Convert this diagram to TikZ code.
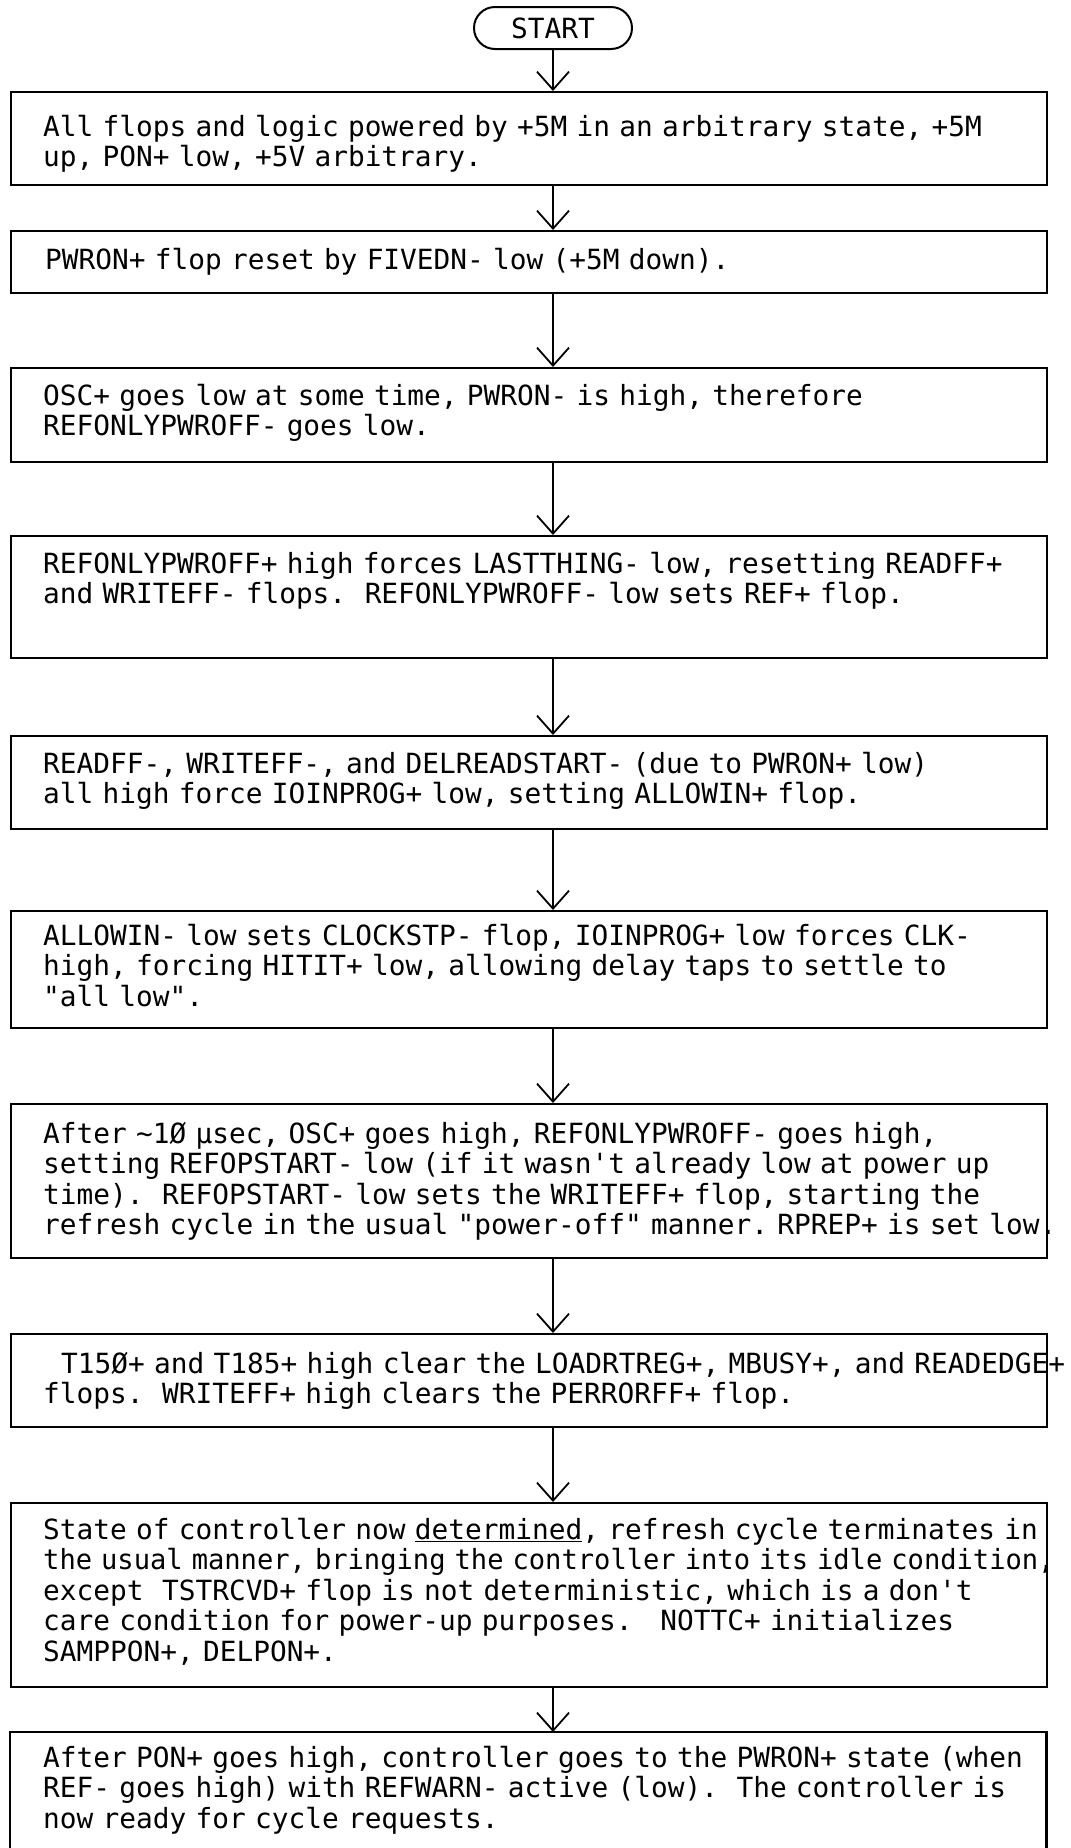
\documentclass[tikz,border=0pt]{standalone}
\usepackage{fontspec}
\usetikzlibrary{arrows.meta}
\newfontfamily\typefont{DejaVu Sans Mono}

\tikzset{
  flowbox/.style={draw, line width=2.4pt, anchor=north west, minimum width=1036pt, inner sep=0pt},
  flowtext/.style={anchor=north west, inner sep=0pt, text width=1100pt, align=left,
    font={\typefont\fontsize{27.8}{30.5}\selectfont\frenchspacing}},
  flowarrow/.style={line width=1.8pt, -{Straight Barb[length=18pt, width=32pt]}},
}

\begin{document}
\begin{tikzpicture}[x=1pt, y=-1pt]
            \useasboundingbox (0,0) rectangle (1071,1848);

            \node[draw, line width=2pt, rounded corners=21pt, minimum width=158pt, minimum height=42pt,
                  inner sep=0pt, font={\typefont\fontsize{27.8}{30.5}\selectfont}] (start) at (553,28) {START};

            \node[flowbox, minimum height=93pt] (box1) at (10,91) {};
            \node[flowbox, minimum height=62pt] (box2) at (10,230) {};
            \node[flowbox, minimum height=94pt] (box3) at (10,367) {};
            \node[flowbox, minimum height=122pt] (box4) at (10,535) {};
            \node[flowbox, minimum height=93pt] (box5) at (10,735) {};
            \node[flowbox, minimum height=117pt] (box6) at (10,910) {};
            \node[flowbox, minimum height=154pt] (box7) at (10,1103) {};
            \node[flowbox, minimum height=93pt] (box8) at (10,1333) {};
            \node[flowbox, minimum height=184pt] (box9) at (10,1502) {};
            \node[anchor=north west, minimum width=1036pt, minimum height=120pt, inner sep=0pt] (box10) at (10,1732) {};
            \draw[line width=2.4pt] (box10.south west) -- (box10.north west) -- (box10.north east) -- (box10.south east);

            \node[flowtext] (txt1) at (43,115) {All flops and logic powered by +5M in an arbitrary state, +5M\\
              up, PON+ low, +5V arbitrary.};
            \node[flowtext] (txt2) at (45,248) {PWRON+ flop reset by FIVEDN- low (+5M down).};
            \node[flowtext] (txt3) at (43,384) {OSC+ goes low at some time, PWRON- is high, therefore\\
              REFONLYPWROFF- goes low.};
            \node[flowtext] (txt4) at (43,552) {REFONLYPWROFF+ high forces LASTTHING- low, resetting READFF+\\
              and WRITEFF- flops.\ \ REFONLYPWROFF- low sets REF+ flop.};
            \node[flowtext] (txt5) at (43,752) {READFF-, WRITEFF-, and DELREADSTART- (due to PWRON+ low)\\
              all high force IOINPROG+ low, setting ALLOWIN+ flop.};
            \node[flowtext] (txt6) at (43,924) {ALLOWIN- low sets CLOCKSTP- flop, IOINPROG+ low forces CLK-\\
              high, forcing HITIT+ low, allowing delay taps to settle to\\
              "all low".};
            \node[flowtext] (txt7) at (43,1122) {After ∼1Ø μsec, OSC+ goes high, REFONLYPWROFF- goes high,\\
              setting REFOPSTART- low (if it wasn't already low at power up\\
              time).\ \ REFOPSTART- low sets the WRITEFF+ flop, starting the\\
              refresh cycle in the usual "power-off" manner. RPREP+ is set low.};
            \node[flowtext] (txt8) at (43,1352) {\hspace*{18pt}T15Ø+ and T185+ high clear the LOADRTREG+, MBUSY+, and READEDGE+\\
              flops.\ \ WRITEFF+ high clears the PERRORFF+ flop.};
            \node[flowtext] (txt9) at (43,1518) {State of controller now \underline{determined}, refresh cycle terminates in\\
              \scalebox{0.975}[1]{the usual manner, bringing the controller into its idle condition,}\\
              except\ \ TSTRCVD+ flop is not deterministic, which is a don't\\
              care condition for power-up purposes.\ \ \ NOTTC+ initializes\\
              SAMPPON+, DELPON+.};
            \node[flowtext] (txt10) at (43,1746) {After PON+ goes high, controller goes to the PWRON+ state (when\\
              REF- goes high) with REFWARN- active (low).\ \ The controller is\\
              now ready for cycle requests.};

            \draw[flowarrow] (start.south) -- (start.south |- box1.north);
            \draw[flowarrow] (box1.south -| start) -- (box2.north -| start);
            \draw[flowarrow] (box2.south -| start) -- (box3.north -| start);
            \draw[flowarrow] (box3.south -| start) -- (box4.north -| start);
            \draw[flowarrow] (box4.south -| start) -- (box5.north -| start);
            \draw[flowarrow] (box5.south -| start) -- (box6.north -| start);
            \draw[flowarrow] (box6.south -| start) -- (box7.north -| start);
            \draw[flowarrow] (box7.south -| start) -- (box8.north -| start);
            \draw[flowarrow] (box8.south -| start) -- (box9.north -| start);
            \draw[flowarrow] (box9.south -| start) -- (box10.north -| start);
\end{tikzpicture}
\end{document}
